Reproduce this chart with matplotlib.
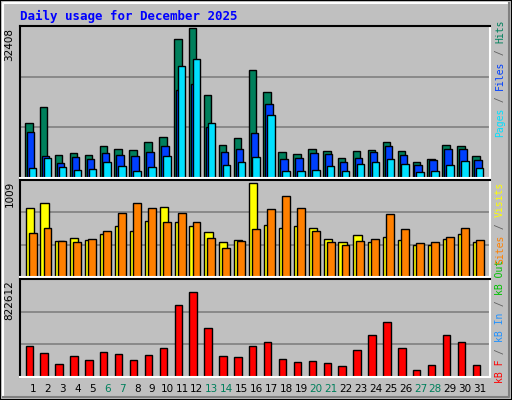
import numpy as np
import matplotlib
matplotlib.use("Agg")
import matplotlib.pyplot as plt
from matplotlib.patches import Rectangle

days = np.arange(1, 32)
hits = [11900, 15340, 4970, 5400, 4970, 6910, 6260, 6050, 7780, 8860, 30030, 32408, 17930, 7130, 8640, 23330,
        18580, 5620, 5180, 6260, 5830, 4320, 5830, 6050, 7780, 5830, 3460, 4100, 7130, 6910, 4750]
files = [9940, 4750, 3240, 4540, 4100, 5400, 4970, 4750, 5620, 6910, 19010, 20300, 11020, 5620, 6260, 9720,
         15990, 4100, 4320, 5400, 5180, 3460, 4320, 5620, 6910, 4970, 2810, 3890, 6260, 6260, 3890]
pages = [2160, 4320, 2380, 1730, 1940, 3460, 2590, 1510, 2380, 4750, 24200, 25710, 11880, 2810, 3460, 4540,
         13610, 1510, 1510, 1730, 2590, 1510, 3020, 3460, 4100, 3020, 1300, 1510, 2810, 3670, 2160]
visits = [734, 795, 387, 418, 397, 459, 550, 489, 601, 754, 591, 550, 479, 377, 397, 1009,
          560, 520, 550, 520, 408, 377, 448, 377, 428, 397, 346, 346, 408, 459, 377]
sites = [469, 520, 387, 377, 408, 489, 683, 795, 734, 591, 683, 591, 418, 306, 387, 510,
         724, 866, 744, 489, 377, 346, 387, 408, 673, 510, 367, 377, 428, 520, 397]
kbytes = [277000, 218800, 119100, 185600, 152300, 227100, 210500, 152300, 193900, 260400, 642600, 759000,
          443200, 185600, 177300, 277000, 318500, 160700, 135700, 144000, 127400, 102500, 243800, 376700,
          493100, 260400, 60900, 110800, 376700, 310200, 110800]
weekends = [6, 7, 13, 14, 20, 21, 27, 28]
max_hits, max_visits, max_kb = 32408, 1009, 822612

BG = "#C0C0C0"
W, H = 512, 400
fig = plt.figure(figsize=(W / 100, H / 100), dpi=100)
fig.patch.set_facecolor(BG)

# outer bevel frame
fig.patches.append(Rectangle((0, 0), 1, 1, transform=fig.transFigure, fill=False, edgecolor="black", lw=1.5))
fig.lines.append(plt.Line2D([3 / W, 3 / W, 1 - 3 / W], [3 / H, 1 - 3 / H, 1 - 3 / H], transform=fig.transFigure, color="white", lw=1.5))
fig.lines.append(plt.Line2D([3 / W, 1 - 3 / W, 1 - 3 / W], [3 / H, 3 / H, 1 - 3 / H], transform=fig.transFigure, color="#808080", lw=1.5))

fig.text(20 / W, 1 - 16 / H, "Daily usage for December 2025", color="#0000FF", fontsize=9,
         fontweight="bold", family="DejaVu Sans Mono", va="center", ha="left")


def make_ax(top, bottom, ymax, label):
    ax = fig.add_axes([20 / W, 1 - bottom / H, 470 / W, (bottom - top) / H])
    ax.set_facecolor(BG)
    ax.set_xlim(0.13, 31.67)
    ax.set_ylim(0, ymax)
    for y in (ymax / 3, 2 * ymax / 3):
        ax.axhline(y, color="#808080", lw=1.2, zorder=0)
    ax.set_xticks([])
    ax.set_yticks([])
    for s in ("top", "left"):
        ax.spines[s].set_color("black")
    for s in ("bottom", "right"):
        ax.spines[s].set_color("white")
    for s in ax.spines.values():
        s.set_linewidth(1.5)
    ax.text(-0.012, 0.99, label, transform=ax.transAxes, rotation=90, ha="right", va="top",
            fontsize=7.5, color="black")
    return ax


bar_kw = dict(align="edge", edgecolor="black", linewidth=1)

ax1 = make_ax(26, 178, max_hits * 1.01, str(max_hits))
ax1.bar(days - 0.53, hits, width=0.5, color="#00805C", **bar_kw)
ax1.bar(days - 0.40, files, width=0.5, color="#0040FF", **bar_kw)
ax1.bar(days - 0.27, pages, width=0.5, color="#00E0FF", **bar_kw)

ax2 = make_ax(180, 277, max_visits * 1.03, str(max_visits))
ax2.bar(days - 0.50, visits, width=0.55, color="#FFFF00", **bar_kw)
ax2.bar(days - 0.29, sites, width=0.53, color="#FF8000", **bar_kw)

ax3 = make_ax(279, 377, max_kb * 1.07, str(max_kb))
ax3.bar(days - 0.50, kbytes, width=0.5, color="#FF0000", **bar_kw)

for d in days:
    fig.text((20 + (d - 0.13) * 470 / 31.54) / W, 1 - 389 / H, str(d), ha="center", va="center",
             fontsize=7.5, color="#00805C" if d in weekends else "black")

# right side rotated legend text, stacked piece by piece
renderer = fig.canvas.get_renderer()


def stack(pieces, y_start, direction=1):
    y = y_start
    if direction < 0:
        pieces = pieces[::-1]
    for txt, col in pieces:
        t = fig.text(500 / W, y / H, txt, rotation=90, color=col, fontsize=7, family="DejaVu Sans Mono",
                     ha="center", va="bottom" if direction > 0 else "top")
        bb = t.get_window_extent(renderer)
        y += direction * bb.height


stack([("Pages", "#00E0FF"), (" / ", "#606060"), ("Files", "#0040FF"), (" / ", "#606060"),
       ("Hits", "#00805C")], H - 137)
stack([("kB F", "#FF0000"), (" / ", "#606060"), ("kB In", "#1E90FF"), (" / ", "#606060"),
       ("kB Out", "#00C000")], H - 383)
stack([("Sites", "#FF8000"), (" / ", "#606060"), ("Visits", "#FFFF00")], H - 182, direction=-1)

fig.savefig("out.png", dpi=100, facecolor=BG)
